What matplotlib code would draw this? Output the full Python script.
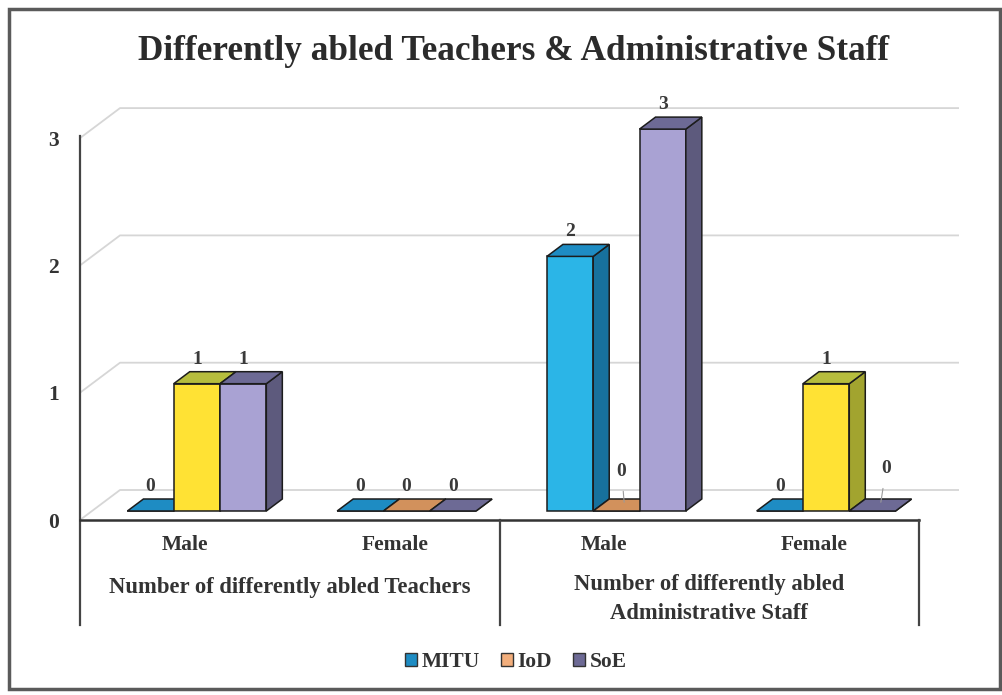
import numpy as np
import matplotlib.pyplot as plt
from matplotlib.patches import Polygon, Patch, Rectangle

plt.rcParams['font.family'] = ['Liberation Serif', 'DejaVu Serif']
plt.rcParams['font.weight'] = 'bold'

title = "Differently abled Teachers & Administrative Staff"
categories = ["Male", "Female", "Male", "Female"]
group_names = ["Number of differently abled Teachers",
               "Number of differently abled\nAdministrative Staff"]
series_names = ["MITU", "IoD", "SoE"]
mitu = [0, 0, 2, 0]
iod = [1, 0, 0, 1]
soe = [1, 0, 3, 0]
yticks = [0, 1, 2, 3]

# front / side / top shade of every series
shades = {
    "MITU": ("#2bb5e7", "#17719d", "#1e8cc3"),
    "IoD": ("#f2ae7c", "#b9713d", "#d2915c"),
    "SoE": ("#a9a2d3", "#5d5a7d", "#6d6a95"),
}
# IoD bars that are above zero are painted yellow
yellow = ("#ffe234", "#a2a42f", "#b6bd3d")

# a few "0" labels sit higher with a leader line: (category, series) -> offset in points
lifted = {(2, 1): (-2, 24), (3, 2): (4, 26)}

CAT_PX = 209.75
UNIT_PX = 127.3
DX = 40 / CAT_PX      # depth of the floor, x part
DY = 30 / UNIT_PX     # depth of the floor, y part
W = 46.3 / CAT_PX     # bar width

fig = plt.figure(figsize=(10.02, 6.95), dpi=100)
ax = fig.add_axes([80 / 1002, (695 - 520) / 695, 879 / 1002, 430 / 695])
ax.set_xlim(-0.5, 3.5 + DX)
ax.set_ylim(0, 430 / UNIT_PX)
ax.patch.set_alpha(0)
for s in ax.spines.values():
    s.set_visible(False)

# back wall + left wall gridlines
for v in yticks:
    ax.plot([-0.5, -0.5 + DX, 3.5 + DX], [v, v + DY, v + DY], color='#d6d6d6', lw=1.3, zorder=1)

x = np.arange(len(categories))
edge = '#1c1c1c'
for j, (name, vals) in enumerate(zip(series_names, [mitu, iod, soe])):
    xc = x + (j - 1) * W + 0.3 * DX
    cols = [yellow if (name == "IoD" and v > 0) else shades[name] for v in vals]
    ax.bar(xc, vals, W, bottom=0.3 * DY, color=[c[0] for c in cols], edgecolor=edge, lw=1.1, zorder=2 + j)
    for k, v in enumerate(vals):
        xl = xc[k] - W / 2
        xr = xc[k] + W / 2
        b = 0.3 * DY
        t = v + 0.3 * DY
        side = [(xr, b), (xr + 0.4 * DX, b + 0.4 * DY), (xr + 0.4 * DX, t + 0.4 * DY), (xr, t)]
        top = [(xl, t), (xr, t), (xr + 0.4 * DX, t + 0.4 * DY), (xl + 0.4 * DX, t + 0.4 * DY)]
        ax.add_patch(Polygon(side, closed=True, facecolor=cols[k][1], edgecolor=edge, lw=1.1, zorder=2 + j))
        ax.add_patch(Polygon(top, closed=True, facecolor=cols[k][2], edgecolor=edge, lw=1.1, zorder=2 + j))
        if (k, j) in lifted:
            ax.annotate(str(v), xy=(xc[k] + 0.2 * DX, t + 0.2 * DY), xytext=lifted[(k, j)],
                        textcoords='offset points', ha='center', va='center', fontsize=14,
                        color='#3a3a3a', zorder=10,
                        arrowprops=dict(arrowstyle='-', color='#9a9a9a', lw=0.8, shrinkA=6, shrinkB=2))
        else:
            ax.annotate(str(v), xy=(xc[k], t + 0.4 * DY), xytext=(0, 3), textcoords='offset points',
                        ha='center', va='bottom', fontsize=14, color='#3a3a3a', zorder=10)

# axis lines and category separators
low = -105 / UNIT_PX
ax.plot([-0.5, -0.5], [3.02, low], color='#444444', lw=1.6, clip_on=False, zorder=6)
ax.plot([-0.5, 3.5], [0, 0], color='#333333', lw=1.8, clip_on=False, zorder=6)
for sx in [1.5, 3.5]:
    ax.plot([sx, sx], [0, low], color='#444444', lw=1.6, clip_on=False, zorder=6)

ax.set_yticks(yticks)
ax.set_xticks(x, categories)
ax.tick_params(axis='y', length=0, pad=15, labelsize=15.5, labelcolor='#333333')
ax.tick_params(axis='x', length=0, pad=11, labelsize=15.5, labelcolor='#333333')

ax.text(0.5, -67 / UNIT_PX, group_names[0], ha='center', va='center', fontsize=16.3,
        color='#333333', clip_on=False)
ax.text(2.5, -79 / UNIT_PX, group_names[1], ha='center', va='center', fontsize=16.3,
        color='#333333', clip_on=False, multialignment='center', linespacing=1.45)

fig.text(514 / 1002, 1 - 51 / 695, title, ha='center', va='center', fontsize=25.4, color='#2b2b2b')

handles = [Patch(facecolor=shades[n][2] if n != "IoD" else shades[n][0], edgecolor='#333333', lw=1)
           for n in series_names]
fig.legend(handles, series_names, loc='center', bbox_to_anchor=(516 / 1002, 1 - 662 / 695), ncol=3,
           frameon=False, fontsize=15.5, handlelength=0.55, handleheight=0.55, handletextpad=0.2,
           columnspacing=1.0, labelcolor='#333333')

fig.add_artist(Rectangle((9 / 1002, 6 / 695), 991 / 1002, 680 / 695, transform=fig.transFigure,
                         fill=False, edgecolor='#5a5a5a', lw=2.5))

fig.savefig("out.png", dpi=100)
